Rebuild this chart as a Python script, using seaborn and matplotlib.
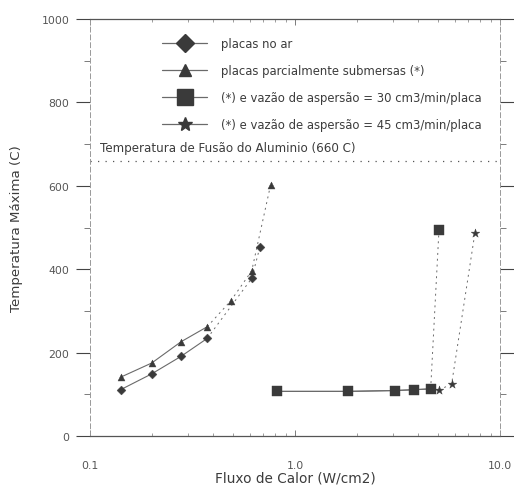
import numpy as np
import pandas as pd
import matplotlib
matplotlib.use("Agg")
import matplotlib.pyplot as plt
from matplotlib.lines import Line2D
from matplotlib.ticker import FixedLocator, LogLocator, NullFormatter
import seaborn as sns

# Heat flux (W/cm2) and maximum temperature (C) for each test configuration
fluxo_ar = [0.141, 0.200, 0.278, 0.373, 0.615, 0.675]
temp_ar = [111, 149, 191, 234, 378, 454]

fluxo_sub = [0.141, 0.200, 0.278, 0.373, 0.486, 0.615, 0.761]
temp_sub = [141, 175, 226, 262, 324, 396, 603]

fluxo_30 = [0.82, 1.82, 3.07, 3.80, 4.59, 5.04]
temp_30 = [107, 107, 109, 111, 113, 495]

fluxo_45 = [0.82, 1.82, 3.07, 3.80, 4.59, 5.04, 5.81, 7.55]
temp_45 = [107, 107, 109, 111, 113, 110, 125, 488]

t_fusao = 660

rotulos = [
    "placas no ar",
    "placas parcialmente submersas (*)",
    "(*) e vazão de aspersão = 30 cm3/min/placa",
    "(*) e vazão de aspersão = 45 cm3/min/placa",
]

sns.set_style("white")
plt.rcParams["font.family"] = ["DejaVu Sans"]

fig = plt.figure(figsize=(5.14, 4.89), dpi=100)
ax = fig.add_axes([90 / 514, 1 - 437 / 489, 410 / 514, 417 / 489])

cor_m = "#3a3a3a"
cor_l = "#6a6a6a"
cor_t = "#3c3c3c"

series = [
    (fluxo_ar, temp_ar, "D", 4, 4.5),
    (fluxo_sub, temp_sub, "^", 4, 5),
    (fluxo_30, temp_30, "s", 5, 6.5),
    (fluxo_45, temp_45, "*", 6, 6.5),
]

# connecting lines: solid over the stable range, dotted towards the failure point
for x, y, mk, n_solid, ms in series:
    df = pd.DataFrame({"fluxo": x, "temp": y})
    lo = df.iloc[:n_solid]
    hi = df.iloc[n_solid - 1:]
    sns.lineplot(data=lo, x="fluxo", y="temp", ax=ax, color=cor_l, lw=0.8,
                 sort=False, estimator=None)
    sns.lineplot(data=hi, x="fluxo", y="temp", ax=ax, color=cor_l, lw=0.7,
                 ls=(0, (2, 4)), sort=False, estimator=None)

# stars first so the squares sit on top of the shared points
for x, y, mk, n_solid, ms in [series[3], series[0], series[1], series[2]]:
    df = pd.DataFrame({"fluxo": x, "temp": y})
    sns.scatterplot(data=df, x="fluxo", y="temp", ax=ax, marker=mk,
                    s=ms ** 2, color=cor_m, edgecolor=cor_m, linewidth=0.3,
                    zorder=4)

ax.axhline(t_fusao, color="#555555", lw=0.9, ls=(0, (1, 5)))
ax.text(0.112, 693, "Temperatura de Fusão do Aluminio (660 C)", fontsize=8.6,
        color=cor_t, va="center", ha="left")

ax.set_xscale("log")
ax.set_xlim(0.1, 10)
ax.set_ylim(0, 1000)

ax.xaxis.set_major_locator(FixedLocator([0.1, 1, 10]))
ax.set_xticklabels(["0.1", "1.0", "10.0"])
ax.xaxis.set_minor_locator(LogLocator(base=10, subs=np.arange(2, 10)))
ax.xaxis.set_minor_formatter(NullFormatter())
ax.set_yticks(np.arange(0, 1001, 200))
ax.set_yticks(np.arange(100, 1000, 200), minor=True)

ax.tick_params(axis="x", which="major", direction="in", length=4, width=0.6,
               color="#666666", pad=17, labelsize=7.8, labelcolor="#555555",
               top=True, bottom=True)
ax.tick_params(axis="x", which="minor", direction="in", length=2.5, width=0.5,
               color="#777777", top=True, bottom=True)
ax.tick_params(axis="y", which="major", direction="out", length=10, width=0.8,
               color="#444444", pad=5, labelsize=7.8, labelcolor="#555555",
               left=True, right=True)
ax.tick_params(axis="y", which="minor", direction="out", length=4, width=0.6,
               color="#666666", left=True, right=True)

for side in ["top", "bottom"]:
    ax.spines[side].set_color("#555555")
    ax.spines[side].set_linewidth(0.9)
for side in ["left", "right"]:
    ax.spines[side].set_color("#999999")
    ax.spines[side].set_linewidth(0.7)
    ax.spines[side].set_linestyle((0, (5, 3)))

ax.set_xlabel("Fluxo de Calor (W/cm2)", fontsize=9.8, color=cor_t,
              labelpad=1)
ax.set_ylabel("Temperatura Máxima (C)", fontsize=9.6, color=cor_t,
              labelpad=13)

def chave(marcador, tamanho):
    return Line2D([], [], color=cor_l, lw=0.9, marker=marcador, ms=tamanho,
                  markerfacecolor=cor_m, markeredgecolor=cor_m)

handles = [chave("D", 9), chave("^", 9), chave("s", 11), chave("*", 10)]
leg = ax.legend(handles, rotulos, loc="upper left",
                bbox_to_anchor=(0.165, 0.969), frameon=False, fontsize=8.4,
                handlelength=3.85, handletextpad=1.2, labelspacing=1.2,
                borderaxespad=0)
for t in leg.get_texts():
    t.set_color(cor_t)

fig.savefig("out.png", dpi=100)
